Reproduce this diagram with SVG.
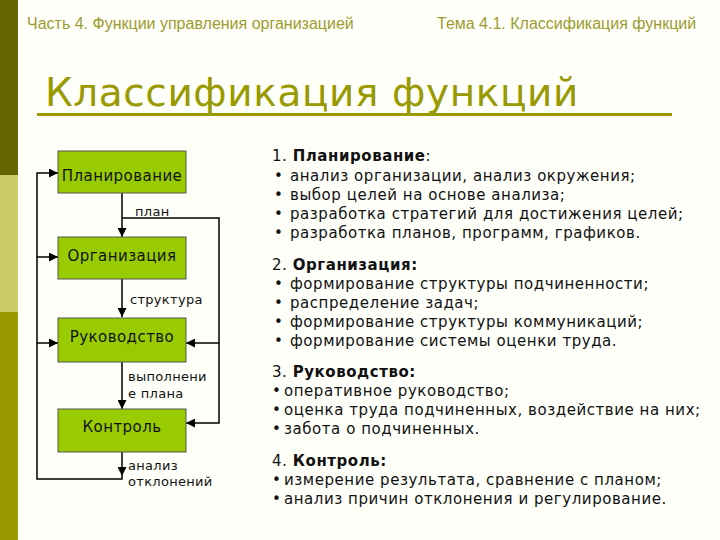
<svg xmlns="http://www.w3.org/2000/svg" width="720" height="540" viewBox="0 0 720 540">
<defs>
<style>
.hdr{font-family:"Liberation Sans",Arial,sans-serif;font-size:16px;fill:#9c9c30}
.title{font-family:"DejaVu Sans",sans-serif;font-size:39px;letter-spacing:0.6px;fill:#999900}
.node rect{fill:#99cc00;stroke:#555;stroke-width:1}
.node text{font-family:"DejaVu Sans",sans-serif;font-size:15px;letter-spacing:0.45px;fill:#111;text-anchor:middle}
.lbl{font-family:"DejaVu Sans",sans-serif;font-size:13px;letter-spacing:0.3px;fill:#111}
.body{font-family:"DejaVu Sans",sans-serif;font-size:15px;letter-spacing:0.55px;fill:#111}
.b{font-weight:bold}
.conn path{fill:none;stroke:#000;stroke-width:1.5}
</style>
<marker id="ah" viewBox="0 0 10 10" refX="10" refY="5" markerWidth="9" markerHeight="9" markerUnits="userSpaceOnUse" orient="auto">
<path d="M0,0 L10,5 L0,10 z" fill="#000"/>
</marker>
</defs>
<rect width="720" height="540" fill="#fffffa"/>
<rect x="0" y="0" width="18" height="175" fill="#666600"/>
<rect x="0" y="175" width="18" height="137" fill="#cccc66"/>
<rect x="0" y="312" width="18" height="228" fill="#999900"/>
<text class="hdr" x="27" y="29">Часть 4. Функции управления организацией</text>
<text class="hdr" x="437" y="29">Тема 4.1. Классификация функций</text>
<text class="title" x="45" y="106">Классификация функций</text>
<rect x="37" y="113" width="635" height="3" fill="#999900"/>

<g class="conn">
<path d="M122,193 V237" marker-end="url(#ah)"/>
<path d="M122,279 V317" marker-end="url(#ah)"/>
<path d="M122,362 V409" marker-end="url(#ah)"/>
<path d="M122,452 V476" marker-end="url(#ah)"/>
<path d="M122,476 V479 H37 V173 H58" marker-end="url(#ah)"/>
<path d="M37,257 H58" marker-end="url(#ah)"/>
<path d="M37,343 H58" marker-end="url(#ah)"/>
<path d="M122,218 H219 V423 H186" marker-end="url(#ah)"/>
<path d="M219,343 H186" marker-end="url(#ah)"/>
</g>

<g id="n1" class="node"><rect x="58" y="151" width="128" height="42"/><text x="122" y="181">Планирование</text></g>
<g id="n2" class="node"><rect x="58" y="237" width="128" height="42"/><text x="122" y="261">Организация</text></g>
<g id="n3" class="node"><rect x="58" y="318" width="128" height="44"/><text x="122" y="342">Руководство</text></g>
<g id="n4" class="node"><rect x="58" y="409" width="128" height="43"/><text x="122" y="432">Контроль</text></g>

<text class="lbl" x="135" y="216">план</text>
<text class="lbl" x="130" y="304">структура</text>
<text class="lbl" x="128" y="381">выполнени</text>
<text class="lbl" x="128" y="398">е плана</text>
<text class="lbl" x="128" y="470">анализ</text>
<text class="lbl" x="128" y="486">отклонений</text>

<g class="body">
<text x="272" y="161">1. <tspan class="b">Планирование</tspan>:</text>
<text x="274" y="181">•</text><text x="290" y="181">анализ организации, анализ окружения;</text>
<text x="274" y="200">•</text><text x="290" y="200">выбор целей на основе анализа;</text>
<text x="274" y="219">•</text><text x="290" y="219">разработка стратегий для достижения целей;</text>
<text x="274" y="238">•</text><text x="290" y="238">разработка планов, программ, графиков.</text>
<text x="272" y="270">2. <tspan class="b">Организация:</tspan></text>
<text x="274" y="289">•</text><text x="290" y="289">формирование структуры подчиненности;</text>
<text x="274" y="308">•</text><text x="290" y="308">распределение задач;</text>
<text x="274" y="327">•</text><text x="290" y="327">формирование структуры коммуникаций;</text>
<text x="274" y="346">•</text><text x="290" y="346">формирование системы оценки труда.</text>
<text x="272" y="377">3. <tspan class="b">Руководство:</tspan></text>
<text x="272" y="396">•</text><text x="284" y="396">оперативное руководство;</text>
<text x="272" y="415">•</text><text x="284" y="415">оценка труда подчиненных, воздействие на них;</text>
<text x="272" y="434">•</text><text x="284" y="434">забота о подчиненных.</text>
<text x="272" y="466">4. <tspan class="b">Контроль:</tspan></text>
<text x="272" y="485">•</text><text x="284" y="485">измерение результата, сравнение с планом;</text>
<text x="272" y="504">•</text><text x="284" y="504">анализ причин отклонения и регулирование.</text>
</g>
</svg>
